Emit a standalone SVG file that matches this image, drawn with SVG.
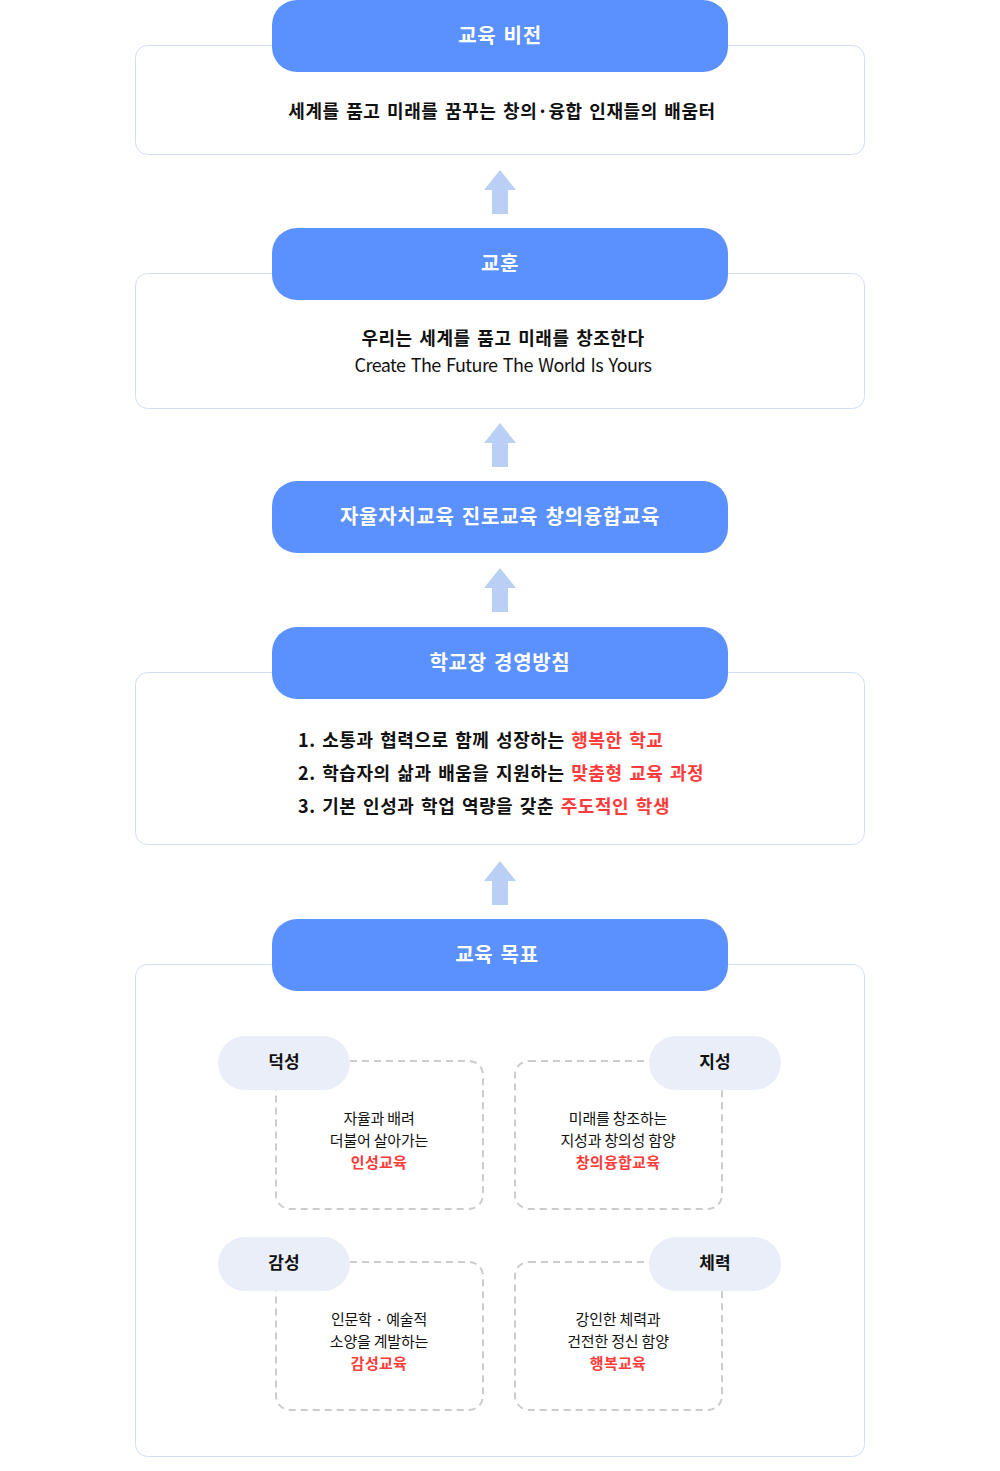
<svg xmlns="http://www.w3.org/2000/svg" width="1000" height="1471" viewBox="0 0 1000 1471">
<style>
text{font-family:"Noto Sans CJK KR","Noto Sans",sans-serif;}
.box{fill:#fff;stroke:#d3def5;stroke-width:1}
.hdr{fill:#5b91ff}
.ht{fill:#fff;font-size:20px;font-weight:700;text-anchor:middle;letter-spacing:0.7px;word-spacing:2px}
.bt{fill:#111;font-size:18px;font-weight:700;letter-spacing:0.55px;word-spacing:2px}
.en{fill:#111;font-size:18px;font-weight:400;letter-spacing:-0.6px;word-spacing:2px}
.red{fill:#ff3b3b}
.pill{fill:#e9eef8}
.pt{fill:#111;font-size:17px;font-weight:700;text-anchor:middle}
.dash{fill:none;stroke:#cccccc;stroke-width:2;stroke-dasharray:7 5}
.qt{fill:#111;font-size:15px;font-weight:400;text-anchor:middle;letter-spacing:-0.2px}
.qr{fill:#ff3b3b;font-size:15px;font-weight:700;text-anchor:middle;letter-spacing:0.3px}
.arr{fill:#b9cff3}
</style>
<defs>
<path id="up" d="M500 0 L516 20 L508 20 L508 44 L492 44 L492 20 L484 20 Z"/>
</defs>
<rect width="1000" height="1471" fill="#fff"/>

<g id="connectors">
<use href="#up" class="arr" y="170"/>
<use href="#up" class="arr" y="423"/>
<use href="#up" class="arr" y="568"/>
<use href="#up" class="arr" y="861"/>
</g>

<g id="vision">
<rect class="box" x="135.5" y="45.5" width="729" height="109" rx="12"/>
<rect class="hdr" x="272" y="0" width="456" height="72" rx="25"/>
<text class="ht" x="500" y="43">교육 비전</text>
<text class="bt" x="502" y="118" text-anchor="middle">세계를 품고 미래를 꿈꾸는 창의·융합 인재들의 배움터</text>
</g>

<g id="motto">
<rect class="box" x="135.5" y="273.5" width="729" height="135" rx="12"/>
<rect class="hdr" x="272" y="228" width="456" height="72" rx="25"/>
<text class="ht" x="500" y="271">교훈</text>
<text class="bt" x="503" y="345" text-anchor="middle">우리는 세계를 품고 미래를 창조한다</text>
<text class="en" x="503" y="372" text-anchor="middle">Create The Future The World Is Yours</text>
</g>

<g id="education">
<rect class="hdr" x="272" y="481" width="456" height="72" rx="25"/>
<text class="ht" x="500" y="524">자율자치교육 진로교육 창의융합교육</text>
</g>

<g id="policy">
<rect class="box" x="135.5" y="672.5" width="729" height="172" rx="12"/>
<rect class="hdr" x="272" y="627" width="456" height="72" rx="25"/>
<text class="ht" x="500" y="670">학교장 경영방침</text>
<text class="bt" x="298" y="747">1. 소통과 협력으로 함께 성장하는 <tspan class="red">행복한 학교</tspan></text>
<text class="bt" x="298" y="780">2. 학습자의 삶과 배움을 지원하는 <tspan class="red">맞춤형 교육 과정</tspan></text>
<text class="bt" x="298" y="813">3. 기본 인성과 학업 역량을 갖춘 <tspan class="red">주도적인 학생</tspan></text>
</g>

<g id="goals">
<rect class="box" x="135.5" y="964.5" width="729" height="492" rx="12"/>
<rect class="hdr" x="272" y="919" width="456" height="72" rx="25"/>
<text class="ht" x="497" y="962">교육 목표</text>
</g>

<g id="goal-virtue">
<rect class="dash" x="276" y="1061" width="207" height="148" rx="14"/>
<rect class="pill" x="218" y="1036" width="132" height="54" rx="27"/>
<text class="pt" x="284" y="1068">덕성</text>
<text class="qt" x="379" y="1124">자율과 배려</text>
<text class="qt" x="379" y="1146">더불어 살아가는</text>
<text class="qr" x="379" y="1168">인성교육</text>
</g>

<g id="goal-intellect">
<rect class="dash" x="515" y="1061" width="207" height="148" rx="14"/>
<rect class="pill" x="649" y="1036" width="132" height="54" rx="27"/>
<text class="pt" x="715" y="1068">지성</text>
<text class="qt" x="618" y="1124">미래를 창조하는</text>
<text class="qt" x="618" y="1146">지성과 창의성 함양</text>
<text class="qr" x="618" y="1168">창의융합교육</text>
</g>

<g id="goal-emotion">
<rect class="dash" x="276" y="1262" width="207" height="148" rx="14"/>
<rect class="pill" x="218" y="1237" width="132" height="54" rx="27"/>
<text class="pt" x="284" y="1269">감성</text>
<text class="qt" x="379" y="1325">인문학 · 예술적</text>
<text class="qt" x="379" y="1347">소양을 계발하는</text>
<text class="qr" x="379" y="1369">감성교육</text>
</g>

<g id="goal-physical">
<rect class="dash" x="515" y="1262" width="207" height="148" rx="14"/>
<rect class="pill" x="649" y="1237" width="132" height="54" rx="27"/>
<text class="pt" x="715" y="1269">체력</text>
<text class="qt" x="618" y="1325">강인한 체력과</text>
<text class="qt" x="618" y="1347">건전한 정신 함양</text>
<text class="qr" x="618" y="1369">행복교육</text>
</g>
</svg>
